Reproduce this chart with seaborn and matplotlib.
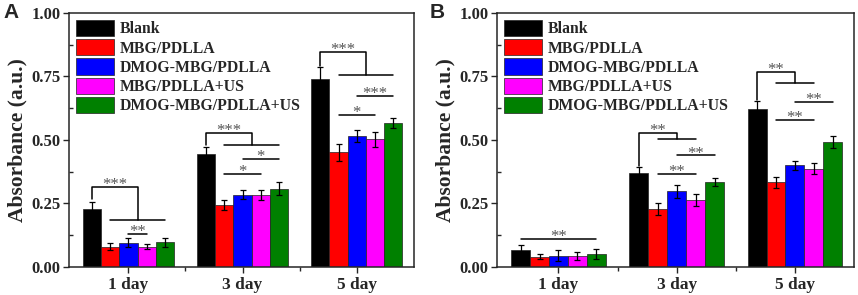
import numpy as np
import pandas as pd
import matplotlib
matplotlib.use("Agg")
import matplotlib.pyplot as plt
import seaborn as sns

# Dados
dias = ['1 day', '3 day', '5 day']
grupos = ['Blank', 'MBG/PDLLA', 'DMOG-MBG/PDLLA', 'MBG/PDLLA+US', 'DMOG-MBG/PDLLA+US']
cores = ['#000000', '#FF0000', '#0000FF', '#FF00FF', '#008000']

# Painel A (linhas = grupos, colunas = dias)
media_a = [[0.229, 0.444, 0.739],
           [0.080, 0.245, 0.451],
           [0.096, 0.285, 0.516],
           [0.080, 0.285, 0.502],
           [0.097, 0.308, 0.568]]
erro_a = [[0.025, 0.030, 0.048],
          [0.015, 0.020, 0.035],
          [0.017, 0.017, 0.025],
          [0.011, 0.020, 0.030],
          [0.018, 0.025, 0.020]]

# Painel B
media_b = [[0.065, 0.369, 0.623],
           [0.040, 0.228, 0.333],
           [0.045, 0.298, 0.400],
           [0.042, 0.264, 0.387],
           [0.051, 0.333, 0.491]]
erro_b = [[0.020, 0.025, 0.032],
          [0.010, 0.022, 0.022],
          [0.020, 0.026, 0.018],
          [0.015, 0.022, 0.022],
          [0.020, 0.016, 0.024]]

# Anotações de significância
# colchete: (dia, inicio, topo, nivel da linha de baixo, barra ini, barra fim, estrelas)
colchetes_a = [(0, 0.268, 0.314, 0.183, 1, 4, '***'),
               (1, 0.480, 0.526, 0.480, 1, 4, '***'),
               (2, 0.790, 0.845, 0.755, 1, 4, '***')]
# linha simples: (dia, y, barra ini, barra fim, estrelas)
linhas_a = [(0, 0.130, 2, 3, '**'),
            (1, 0.366, 1, 3, '*'),
            (1, 0.426, 2, 4, '*'),
            (2, 0.597, 1, 3, '*'),
            (2, 0.673, 2, 4, '***')]

colchetes_b = [(1, 0.397, 0.528, 0.505, 1, 3, '**'),
               (2, 0.657, 0.766, 0.726, 1, 3, '**')]
linhas_b = [(0, 0.110, 0, 4, '**'),
            (1, 0.366, 1, 3, '**'),
            (1, 0.439, 2, 4, '**'),
            (2, 0.578, 1, 3, '**'),
            (2, 0.650, 2, 4, '**')]

sns.set_style('ticks')
plt.rcParams['font.family'] = ['Liberation Serif', 'DejaVu Serif']
plt.rcParams['font.weight'] = 'bold'
plt.rcParams['axes.labelweight'] = 'bold'


def montar_df(media):
    linhas = []
    for g, nome in enumerate(grupos):
        for d, dia in enumerate(dias):
            linhas.append({'Dia': dia, 'Grupo': nome, 'Valor': media[g][d]})
    return pd.DataFrame(linhas)


def desenhar(ax, media, erro, colchetes, linhas, letra):
    df = montar_df(media)
    sns.barplot(data=df, x='Dia', y='Valor', hue='Grupo', order=dias,
                hue_order=grupos, palette=cores, saturation=1, errorbar=None,
                width=0.8, edgecolor='#222222', linewidth=0.5, ax=ax)

    # centros das barras a partir dos containers do seaborn
    conts = list(ax.containers)
    centros = np.zeros((len(grupos), len(dias)))
    alturas = np.zeros((len(grupos), len(dias)))
    for g, cont in enumerate(conts):
        for d, barra in enumerate(cont):
            centros[g, d] = barra.get_x() + barra.get_width() / 2
            alturas[g, d] = barra.get_height()
    for g in range(len(grupos)):
        ax.errorbar(centros[g], alturas[g], yerr=erro[g], fmt='none',
                    ecolor='black', elinewidth=0.9, capsize=2.3,
                    capthick=0.9, zorder=5)

    lw = 1.1
    cor_estrela = '#555555'

    def estrelas(x, y, txt):
        ax.annotate(txt, xy=(x, y), xytext=(0, -1.5), textcoords='offset points',
                    ha='center', va='baseline', fontsize=12, fontweight='normal',
                    color=cor_estrela)

    for d, y0, ytop, ylow, b1, b2, txt in colchetes:
        xb = centros[0, d]
        x1, x2 = centros[b1, d], centros[b2, d]
        xm = (x1 + x2) / 2
        ax.plot([xb, xb, xm, xm], [y0, ytop, ytop, ylow], color='black', lw=lw)
        ax.plot([x1, x2], [ylow, ylow], color='black', lw=lw)
        estrelas((xb + xm) / 2, ytop, txt)

    for d, y, b1, b2, txt in linhas:
        x1, x2 = centros[b1, d], centros[b2, d]
        ax.plot([x1, x2], [y, y], color='black', lw=lw)
        estrelas((x1 + x2) / 2, y, txt)

    ax.set_xlim(-0.52, 2.5)
    ax.set_ylim(0, 1.0)
    ax.set_yticks([0, 0.25, 0.5, 0.75, 1.0])
    ax.set_yticklabels(['0.00', '0.25', '0.50', '0.75', '1.00'])
    ax.set_yticks([0.125, 0.375, 0.625, 0.875], minor=True)
    ax.set_xticks([0.5, 1.5], minor=True)
    ax.tick_params(axis='y', which='major', labelsize=12, width=1, length=4,
                   direction='out', pad=2)
    ax.tick_params(axis='x', which='major', labelsize=12.5, width=1, length=4,
                   direction='out', pad=3)
    ax.tick_params(axis='y', which='minor', width=1, length=3, direction='in')
    ax.tick_params(axis='x', which='minor', width=1, length=3, direction='out')
    for lado in ['top', 'right', 'left', 'bottom']:
        ax.spines[lado].set_visible(True)
        ax.spines[lado].set_linewidth(1.1)
    ax.set_xlabel('')
    ax.set_ylabel('Absorbance (a.u.)', fontsize=15.5, fontweight='bold', labelpad=3)

    ax.legend(loc='upper left', frameon=False, fontsize=11.3, handlelength=2.4,
              handleheight=1.2, labelspacing=0.12, handletextpad=0.4,
              borderaxespad=0.25, borderpad=0.2)
    for t in ax.get_legend().get_texts():
        t.set_fontweight('bold')

    ax.text(-0.19, 1.0, letra, transform=ax.transAxes, fontsize=15,
            fontweight='bold', family=['Liberation Sans', 'DejaVu Sans'],
            ha='left', va='center')


fig = plt.figure(figsize=(8.58, 2.95), dpi=100)
ax_a = fig.add_axes([0.0804, 0.095, 0.402, 0.861])
ax_b = fig.add_axes([0.5793, 0.095, 0.416, 0.861])

desenhar(ax_a, media_a, erro_a, colchetes_a, linhas_a, 'A')
desenhar(ax_b, media_b, erro_b, colchetes_b, linhas_b, 'B')

fig.savefig('out.png', dpi=100)
